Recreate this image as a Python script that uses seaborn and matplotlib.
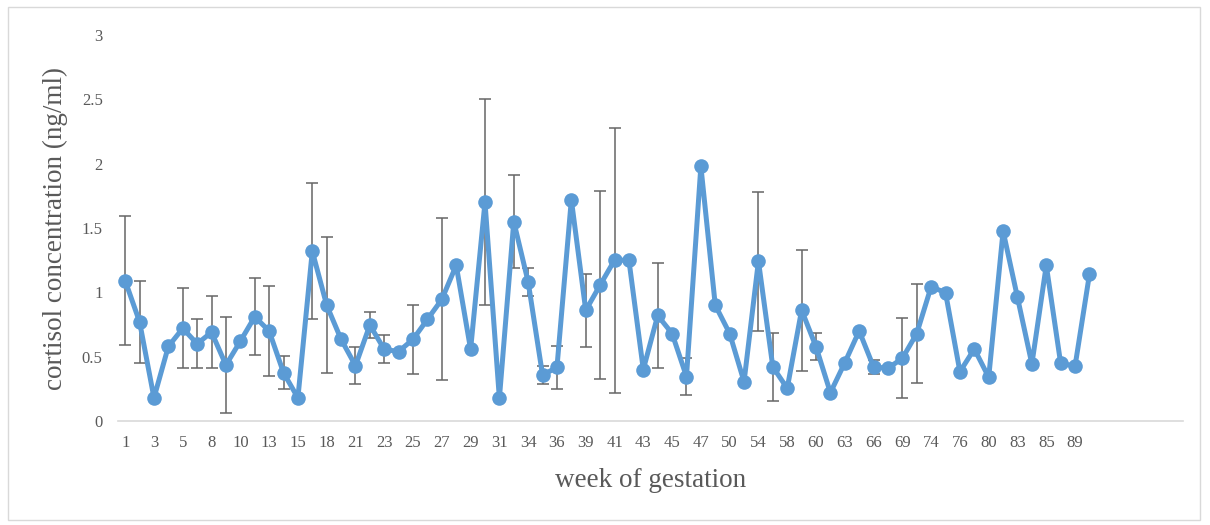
import numpy as np
import pandas as pd
import matplotlib
matplotlib.use("Agg")
import matplotlib.pyplot as plt
import seaborn as sns
from matplotlib.patches import Rectangle
from matplotlib.ticker import FormatStrFormatter

# week labels (only every second one is shown on the axis)
weeks = [1, 2, 3, 4, 5, 7, 8, 9, 10, 12, 13, 14, 15, 17, 18, 20, 21, 22, 23, 24,
         25, 26, 27, 28, 29, 30, 31, 33, 34, 35, 36, 38, 39, 40, 41, 42, 43, 44,
         45, 46, 47, 49, 50, 52, 54, 56, 58, 59, 60, 62, 63, 65, 66, 68, 69, 72,
         74, 75, 76, 78, 80, 82, 83, 84, 85, 87, 89, 91]

cortisol = [1.09, 0.77, 0.18, 0.58, 0.72, 0.60, 0.69, 0.435, 0.62, 0.81,
            0.70, 0.375, 0.18, 1.32, 0.90, 0.635, 0.43, 0.746, 0.557, 0.54,
            0.635, 0.79, 0.945, 1.21, 0.557, 1.70, 0.176, 1.55, 1.08, 0.357,
            0.417, 1.72, 0.86, 1.057, 1.25, 1.25, 0.40, 0.82, 0.68, 0.345,
            1.98, 0.90, 0.68, 0.305, 1.243, 0.42, 0.254, 0.862, 0.577, 0.22,
            0.453, 0.70, 0.42, 0.41, 0.487, 0.68, 1.044, 0.997, 0.383, 0.56,
            0.34, 1.476, 0.96, 0.443, 1.21, 0.448, 0.427, 1.14]

# standard deviation, 0 = no error bar drawn
sd = [0.50, 0.32, 0, 0, 0.31, 0.19, 0.28, 0.37, 0, 0.30,
      0.35, 0.13, 0, 0.53, 0.53, 0, 0.145, 0.10, 0.11, 0,
      0.27, 0, 0.63, 0, 0, 0.80, 0, 0.36, 0.11, 0.07,
      0.165, 0, 0.285, 0.73, 1.03, 0, 0, 0.405, 0, 0.145,
      0, 0, 0, 0, 0.54, 0.265, 0, 0.47, 0.105, 0,
      0, 0, 0.055, 0, 0.31, 0.385, 0, 0, 0, 0,
      0, 0, 0, 0, 0, 0, 0, 0]

df = pd.DataFrame({"pos": np.arange(len(weeks)), "week": weeks,
                   "cortisol": cortisol, "sd": sd})

sns.set_style("white")
plt.rcParams["font.family"] = ["Liberation Serif", "DejaVu Serif"]

fig = plt.figure(figsize=(12.1, 5.25), dpi=100)
ax = fig.add_axes([118 / 1210, 1 - 421 / 525, 1065 / 1210, 386 / 525])

blue = "#5B9BD5"
grey = "#595959"

bars = df[df["sd"] > 0]
ax.errorbar(bars["pos"], bars["cortisol"], yerr=bars["sd"], fmt="none",
            ecolor="#666666", elinewidth=1.1, capsize=4.5, capthick=1.1, zorder=2)

sns.lineplot(data=df, x="pos", y="cortisol", ax=ax, color=blue, linewidth=3.6,
             marker="o", markersize=10.5, markeredgewidth=0, zorder=3)

ax.set_xlim(-0.5, 73.5)
ax.set_ylim(0, 3)
ax.set_yticks(np.arange(0, 3.01, 0.5))
ax.yaxis.set_major_formatter(FormatStrFormatter("%g"))
ax.set_xticks(df["pos"][::2])
ax.set_xticklabels(df["week"][::2])
ax.tick_params(axis="both", length=0, labelsize=12, labelcolor=grey)
ax.tick_params(axis="y", pad=11)
ax.tick_params(axis="x", pad=10)

for s in ["top", "right", "left"]:
    ax.spines[s].set_visible(False)
ax.spines["bottom"].set_color("#d9d9d9")
ax.spines["bottom"].set_linewidth(1.2)

ax.set_xlabel("week of gestation", fontsize=19.5, color=grey, labelpad=12)
ax.set_ylabel("cortisol concentration (ng/ml)", fontsize=19.5, color=grey, labelpad=10)

fig.patches.append(Rectangle((8 / 1210, 5 / 525), 1192 / 1210, 513 / 525,
                             transform=fig.transFigure, fill=False,
                             edgecolor="#d9d9d9", linewidth=1.0))

fig.savefig("out.png", dpi=100)
